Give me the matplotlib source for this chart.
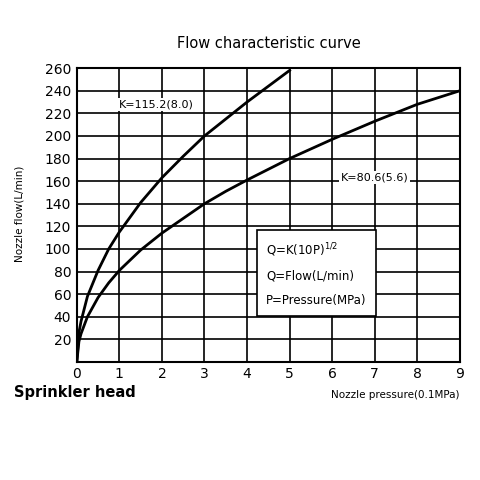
import matplotlib
matplotlib.use("Agg")
import matplotlib.pyplot as plt

# values
x_a = [0, 0.05, 0.1, 0.25, 0.5, 0.75, 1, 1.5, 2, 2.5, 3, 3.5, 4, 4.5, 5]
q_a = [0, 26, 36, 58, 81, 100, 115, 141, 163, 182, 200, 215, 230, 244, 258]
x_b = [0, 0.05, 0.1, 0.25, 0.5, 0.75, 1, 1.5, 2, 2.5, 3, 3.5, 4, 5, 6, 7, 8, 9]
q_b = [0, 18, 25, 40, 57, 70, 81, 99, 114, 127, 140, 151, 161, 180, 197, 213, 228, 240]

xticks = list(range(0, 10))
yticks = list(range(20, 261, 20))

fig = plt.figure(figsize=(4.8, 4.8), dpi=100)
ax = fig.add_axes([0.16, 0.246, 0.798, 0.612])
ax.plot(x_a, q_a, color="black", lw=2)
ax.plot(x_b, q_b, color="black", lw=2)
ax.set_xlim(0, 9)
ax.set_ylim(0, 260)
ax.set_xticks(xticks)
ax.set_yticks(yticks)
ax.grid(True, color="black", lw=1.2)
for s in ax.spines.values():
    s.set_linewidth(1.5)
ax.tick_params(length=0, labelsize=10, pad=4)

ax.text(1.0, 228, "K=115.2(8.0)", fontsize=8, ha="left", va="center",
        bbox=dict(fc="white", ec="none", pad=1))
ax.text(6.2, 163, "K=80.6(5.6)", fontsize=8, ha="left", va="center",
        bbox=dict(fc="white", ec="none", pad=1))
ax.text(4.45, 78, "Q=K(10P)$^{1/2}$\n\nQ=Flow(L/min)\n\nP=Pressure(MPa)",
        fontsize=8.5, ha="left", va="center", linespacing=0.9,
        bbox=dict(fc="white", ec="black", lw=1.2, pad=7))

fig.text(0.56, 0.9, "Flow characteristic curve", ha="center", fontsize=10.5)
fig.text(0.04, 0.555, "Nozzle flow(L/min)", rotation=90, ha="center", va="center", fontsize=7.5)
fig.text(0.958, 0.177, "Nozzle pressure(0.1MPa)", ha="right", va="center", fontsize=7.5)
fig.text(0.03, 0.182, "Sprinkler head", ha="left", va="center", fontsize=10.5, fontweight="bold")

fig.savefig("out.png", dpi=100)
